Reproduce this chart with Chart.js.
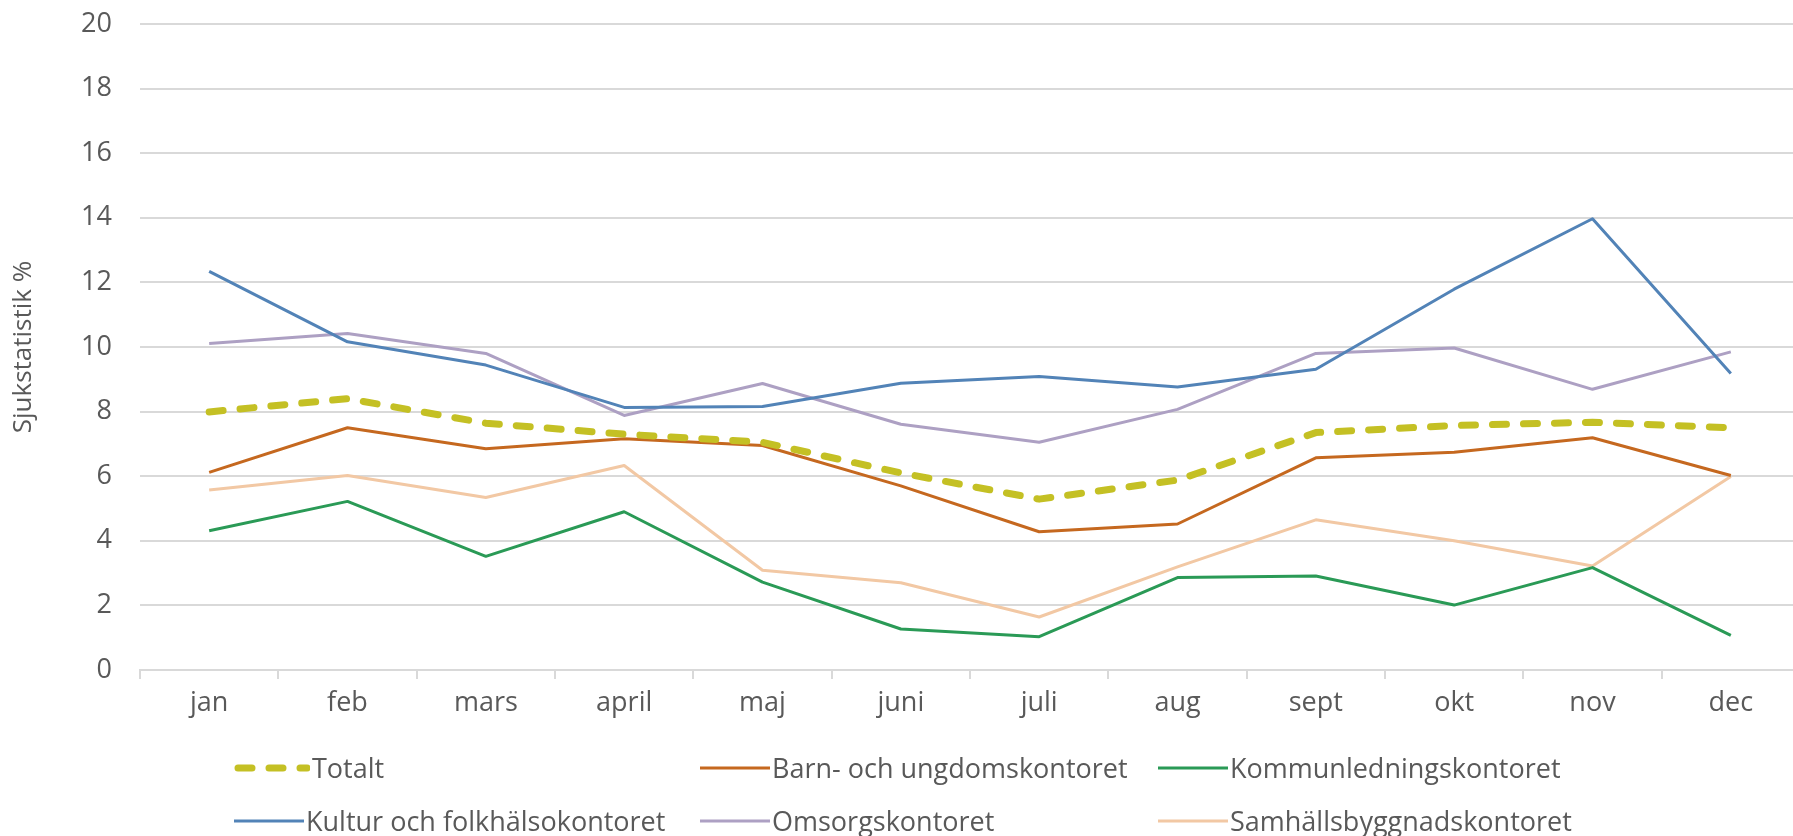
<!DOCTYPE html>
<html><head><meta charset="utf-8">
<script src="https://cdn.jsdelivr.net/npm/chart.js@4.4.1/dist/chart.umd.min.js"></script>
<style>
html,body{margin:0;padding:0;background:#fff;overflow:hidden;width:1793px;height:836px;}
#wrap{position:absolute;left:0;top:0;width:1800px;height:836px;}
#legend{position:absolute;left:0;top:0;width:1793px;height:836px;pointer-events:none;font-family:"Open Sans",sans-serif;font-size:27px;color:#595959;}
.item{position:absolute;display:flex;align-items:center;white-space:nowrap;height:30px;line-height:30px;}
.item svg{display:block;margin-right:2px;}
</style></head>
<body>
<div id="wrap"><canvas id="c" width="1800" height="836"></canvas></div>
<div id="legend"></div>
<script>
const months = ['jan','feb','mars','april','maj','juni','juli','aug','sept','okt','nov','dec'];
const yTicks = [0,2,4,6,8,10,12,14,16,18,20];
const seriesNames = ['Totalt','Barn- och ungdomskontoret','Kommunledningskontoret','Kultur och folkhälsokontoret','Omsorgskontoret','Samhällsbyggnadskontoret'];
const totalt   = [7.99, 8.40, 7.64, 7.30, 7.05, 6.10, 5.29, 5.88, 7.35, 7.57, 7.67, 7.50];
const barn     = [6.12, 7.50, 6.85, 7.16, 6.95, 5.70, 4.28, 4.52, 6.57, 6.74, 7.19, 6.02];
const kommun   = [4.31, 5.22, 3.52, 4.90, 2.72, 1.27, 1.03, 2.86, 2.91, 2.01, 3.17, 1.07];
const kultur   = [12.34, 10.16, 9.44, 8.13, 8.16, 8.88, 9.09, 8.76, 9.31, 11.79, 13.97, 9.18];
const omsorg   = [10.11, 10.42, 9.80, 7.88, 8.87, 7.61, 7.05, 8.07, 9.80, 9.97, 8.69, 9.85];
const samhall  = [5.57, 6.02, 5.34, 6.33, 3.09, 2.70, 1.64, 3.19, 4.65, 4.00, 3.22, 5.99];
const colors = ['#C4C024','#C5681F','#2A9A56','#5283B7','#ADA0C3','#F2C8A4'];

const FONT = '"Open Sans", sans-serif';
const TXT = '#595959';
const GRID = '#D9D9D9';

const seriesData = [totalt, barn, kommun, kultur, omsorg, samhall];
const datasets = seriesData.map((d,i)=>({
  label: seriesNames[i],
  data: d,
  borderColor: colors[i],
  backgroundColor: colors[i],
  borderWidth: i===0 ? 7 : 3,
  borderDash: i===0 ? [14,17] : [],
  borderCapStyle: i===0 ? 'round' : 'butt',
  borderJoinStyle: 'round',
  pointRadius: 0,
  tension: 0,
  fill: false
}));

new Chart(document.getElementById('c'), {
  type: 'line',
  data: { labels: months, datasets },
  options: {
    responsive: false,
    animation: false,
    layout: { padding: { top: 24, right: 0, bottom: 106, left: 0 } },
    plugins: { legend: { display: false }, tooltip: { enabled: false } },
    scales: {
      x: {
        offset: true,
        grid: { offset: true, drawOnChartArea: false, drawTicks: true, tickLength: 9, color: GRID, lineWidth: 2 },
        border: { display: true, color: GRID, width: 2 },
        ticks: { color: TXT, font: { family: FONT, size: 27 }, padding: 8, maxRotation: 0, autoSkip: false },
        afterFit: s => { s.height = 60; }
      },
      y: {
        min: 0, max: 20,
        afterBuildTicks: s => { s.ticks = yTicks.map(v => ({ value: v })); },
        grid: { color: GRID, lineWidth: 2, drawTicks: true, tickLength: 24, tickColor: 'rgba(0,0,0,0)' },
        border: { display: false },
        ticks: { color: TXT, font: { family: FONT, size: 27 }, padding: 4 },
        title: { display: true, text: 'Sjukstatistik %', color: TXT, font: { family: FONT, size: 26 }, padding: { top: 8, bottom: 0 } },
        afterFit: s => { s.width = 140; }
      }
    }
  }
});

// legend
const legendPos = [
  {x:234, y:768}, {x:700, y:768}, {x:1158, y:768},
  {x:234, y:821}, {x:700, y:821}, {x:1158, y:821}
];
const lg = document.getElementById('legend');
seriesNames.forEach((name,i)=>{
  const p = legendPos[i];
  const div = document.createElement('div');
  div.className = 'item';
  div.style.left = p.x + 'px';
  div.style.top = (p.y - 15) + 'px';
  const w = i===0 ? 76 : 70;
  const sw = i===0 ? 7 : 3;
  const dash = i===0 ? 'stroke-dasharray="14 17" stroke-linecap="round"' : '';
  const x1 = i===0 ? 4 : 0, x2 = i===0 ? w-3 : w;
  div.innerHTML = `<svg width="${w}" height="12"><line x1="${x1}" y1="6" x2="${x2}" y2="6" stroke="${colors[i]}" stroke-width="${sw}" ${dash}/></svg><span>${name}</span>`;
  lg.appendChild(div);
});
</script>
</body></html>
